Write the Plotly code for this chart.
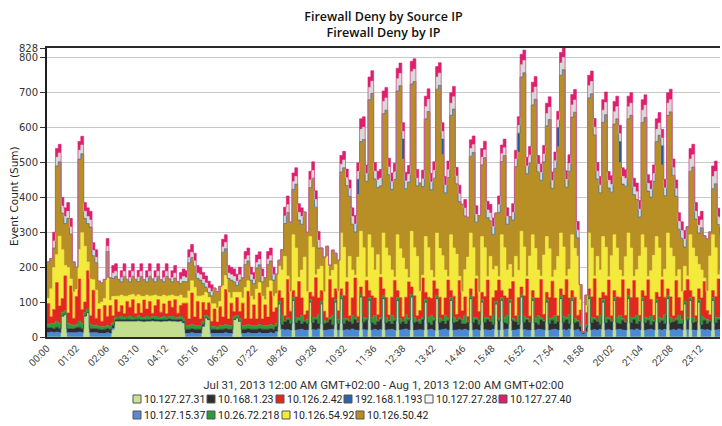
import pandas as pd
import plotly.graph_objects as go

# ---- time axis: one sample every 6 minutes across the day ----
TIMES = pd.date_range("2013-07-31 00:00", periods=240, freq="6min")

TICK_LABELS = ["00:00", "01:02", "02:06", "03:10", "04:12", "05:16", "06:20", "07:22",
               "08:26", "09:28", "10:32", "11:36", "12:38", "13:42", "14:46", "15:48",
               "16:52", "17:54", "18:58", "20:02", "21:04", "22:08", "23:12"]

Y_TICKS = [0, 100, 200, 300, 400, 500, 600, 700, 800, 828]

# ---- event counts per source IP (stack order: bottom to top) ----
IP_10_127_27_31 = [
    0, 0, 0, 0, 0, 60, 65, 0, 0, 0,
    0, 0, 0, 60, 70, 0, 0, 0, 0, 0,
    0, 0, 0, 20, 45, 45, 45, 45, 45, 45,
    45, 45, 46, 45, 44, 45, 45, 46, 45, 45,
    44, 45, 45, 46, 45, 45, 44, 45, 40, 0,
    0, 0, 0, 0, 0, 30, 55, 50, 0, 0,
    0, 0, 0, 0, 0, 0, 50, 55, 45, 0,
    0, 0, 0, 0, 0, 0, 0, 0, 0, 0,
    0, 0, 95, 0, 0, 0, 0, 105, 0, 0,
    0, 0, 0, 100, 0, 0, 0, 95, 0, 0,
    0, 0, 100, 0, 110, 0, 0, 0, 0, 0,
    0, 115, 0, 0, 105, 0, 0, 0, 0, 110,
    0, 0, 0, 0, 105, 0, 0, 0, 0, 115,
    0, 0, 0, 0, 100, 0, 0, 0, 110, 0,
    0, 0, 0, 105, 0, 0, 0, 0, 0, 0,
    110, 0, 0, 0, 100, 0, 0, 0, 0, 95,
    0, 105, 0, 0, 100, 0, 0, 0, 115, 0,
    0, 0, 105, 0, 0, 0, 0, 100, 0, 0,
    0, 0, 110, 0, 0, 0, 105, 0, 0, 0,
    0, 0, 110, 0, 0, 0, 0, 100, 0, 0,
    0, 105, 0, 0, 0, 0, 110, 0, 0, 0,
    0, 105, 0, 0, 0, 0, 100, 0, 0, 0,
    110, 0, 0, 0, 0, 0, 95, 0, 105, 0,
    0, 100, 0, 0, 0, 0, 105, 0, 0, 0]

IP_10_127_15_37 = [
    12, 14, 12, 14, 12, 0, 0, 12, 12, 12,
    12, 14, 12, 0, 0, 12, 12, 12, 10, 10,
    10, 12, 10, 5, 0, 0, 0, 0, 0, 0,
    0, 0, 0, 0, 0, 0, 0, 0, 0, 0,
    0, 0, 0, 0, 0, 0, 0, 0, 0, 10,
    10, 12, 10, 10, 10, 0, 0, 0, 10, 10,
    10, 10, 10, 12, 10, 10, 0, 0, 0, 10,
    10, 12, 10, 10, 10, 12, 10, 10, 10, 12,
    10, 15, 0, 22, 20, 21, 19, 0, 20, 21,
    22, 19, 20, 0, 21, 20, 23, 0, 19, 20,
    21, 22, 0, 20, 0, 19, 21, 20, 23, 20,
    19, 0, 21, 20, 0, 20, 22, 19, 21, 0,
    20, 21, 22, 19, 0, 20, 21, 23, 20, 0,
    19, 20, 21, 20, 0, 21, 22, 19, 0, 20,
    21, 23, 20, 0, 19, 20, 21, 20, 22, 19,
    0, 20, 21, 19, 0, 21, 20, 19, 22, 0,
    20, 0, 21, 23, 0, 19, 20, 22, 0, 21,
    20, 19, 0, 20, 22, 21, 20, 0, 19, 21,
    22, 20, 0, 21, 19, 23, 0, 20, 21, 15,
    8, 15, 0, 20, 21, 19, 22, 0, 20, 21,
    19, 0, 21, 22, 20, 19, 0, 21, 20, 23,
    20, 0, 19, 21, 22, 20, 0, 21, 19, 22,
    0, 20, 21, 19, 23, 20, 0, 21, 0, 20,
    19, 0, 22, 20, 21, 19, 0, 20, 21, 22]

IP_10_168_1_23 = [
    14, 12, 12, 14, 12, 0, 0, 12, 12, 12,
    14, 14, 12, 0, 0, 12, 12, 12, 12, 10,
    12, 12, 12, 8, 4, 6, 5, 4, 6, 5,
    4, 6, 5, 4, 6, 5, 4, 6, 5, 4,
    6, 5, 4, 6, 5, 4, 6, 5, 4, 12,
    12, 12, 12, 12, 12, 6, 0, 0, 12, 12,
    10, 12, 12, 12, 12, 12, 0, 0, 0, 12,
    12, 12, 12, 12, 12, 12, 12, 12, 12, 12,
    12, 14, 0, 14, 24, 28, 18, 0, 20, 26,
    15, 24, 18, 0, 20, 30, 14, 0, 18, 22,
    28, 13, 0, 18, 0, 20, 27, 24, 15, 30,
    22, 0, 21, 28, 0, 20, 14, 25, 29, 0,
    20, 24, 15, 27, 0, 19, 23, 14, 28, 0,
    21, 24, 18, 30, 0, 20, 13, 28, 0, 20,
    25, 14, 27, 0, 21, 24, 29, 18, 15, 23,
    0, 20, 28, 17, 0, 21, 30, 24, 14, 0,
    27, 0, 20, 15, 0, 28, 24, 13, 0, 21,
    29, 23, 0, 20, 14, 28, 25, 0, 19, 27,
    15, 24, 0, 21, 30, 14, 0, 20, 23, 14,
    4, 12, 0, 20, 28, 25, 14, 0, 21, 29,
    24, 0, 20, 15, 28, 23, 0, 19, 30, 14,
    25, 0, 21, 27, 14, 24, 0, 20, 28, 15,
    0, 20, 23, 29, 14, 18, 0, 27, 0, 21,
    24, 0, 13, 28, 18, 25, 0, 20, 29, 14]

IP_10_26_72_218 = [
    10, 12, 15, 18, 15, 10, 10, 15, 12, 10,
    10, 18, 15, 10, 10, 12, 10, 10, 8, 10,
    8, 10, 8, 8, 8, 6, 10, 8, 6, 10,
    8, 6, 10, 8, 6, 10, 8, 6, 10, 8,
    6, 10, 8, 6, 10, 8, 6, 10, 8, 10,
    10, 12, 10, 10, 10, 8, 8, 8, 8, 8,
    8, 10, 10, 12, 10, 10, 8, 8, 8, 10,
    10, 12, 10, 10, 10, 12, 10, 10, 10, 12,
    10, 10, 8, 26, 2, 6, 12, 8, 15, 7,
    25, 3, 12, 8, 16, 5, 27, 8, 12, 2,
    6, 26, 8, 12, 8, 15, 5, 2, 24, 7,
    3, 8, 14, 6, 8, 16, 26, 2, 6, 8,
    15, 3, 25, 6, 8, 14, 2, 27, 5, 8,
    16, 2, 12, 7, 8, 15, 26, 6, 8, 14,
    2, 25, 6, 8, 15, 3, 7, 12, 26, 2,
    8, 16, 6, 12, 8, 14, 5, 3, 27, 8,
    6, 8, 15, 24, 8, 7, 2, 26, 8, 16,
    5, 3, 8, 14, 26, 6, 2, 8, 15, 7,
    25, 2, 8, 16, 6, 27, 8, 14, 3, 8,
    0, 8, 8, 15, 6, 2, 26, 8, 16, 5,
    3, 8, 14, 25, 6, 2, 8, 15, 7, 26,
    2, 8, 16, 6, 24, 3, 8, 14, 5, 27,
    8, 15, 2, 6, 26, 12, 8, 7, 8, 14,
    3, 8, 25, 6, 12, 2, 8, 16, 6, 26]

IP_10_126_2_42 = [
    60, 20, 40, 110, 50, 40, 100, 30, 110, 20,
    80, 120, 40, 30, 110, 25, 100, 20, 50, 15,
    60, 25, 60, 20, 50, 15, 30, 10, 45, 25,
    50, 10, 35, 12, 50, 20, 45, 10, 30, 50,
    15, 35, 10, 45, 25, 50, 12, 30, 45, 65,
    20, 90, 25, 70, 20, 55, 15, 40, 15, 50,
    15, 55, 25, 100, 20, 65, 15, 50, 20, 65,
    20, 95, 20, 60, 20, 90, 20, 60, 25, 95,
    40, 45, 30, 50, 15, 110, 25, 20, 60, 105,
    50, 18, 25, 20, 60, 115, 48, 30, 25, 12,
    110, 52, 30, 25, 20, 65, 105, 15, 50, 112,
    15, 20, 60, 108, 20, 62, 50, 18, 115, 20,
    58, 15, 52, 110, 20, 60, 12, 50, 105, 20,
    62, 15, 25, 112, 20, 58, 50, 108, 20, 60,
    15, 50, 110, 20, 62, 18, 105, 25, 52, 15,
    20, 60, 112, 25, 20, 60, 108, 15, 50, 30,
    110, 20, 62, 50, 30, 105, 15, 52, 20, 60,
    112, 15, 20, 58, 50, 110, 18, 20, 60, 105,
    50, 15, 20, 62, 110, 48, 20, 60, 15, 40,
    3, 35, 20, 60, 112, 15, 50, 20, 62, 108,
    15, 20, 60, 52, 110, 18, 20, 58, 105, 50,
    15, 20, 62, 110, 48, 15, 20, 60, 112, 50,
    20, 60, 15, 108, 50, 25, 30, 110, 20, 60,
    15, 30, 52, 105, 25, 18, 20, 60, 110, 50]

IP_10_126_54_92 = [
    15, 80, 120, 80, 200, 140, 30, 130, 20, 75,
    20, 85, 220, 160, 25, 105, 30, 80, 15, 55,
    20, 110, 15, 55, 10, 45, 30, 50, 15, 35,
    15, 50, 25, 48, 10, 40, 15, 50, 30, 10,
    45, 25, 50, 15, 35, 10, 48, 30, 15, 15,
    80, 35, 85, 15, 65, 20, 50, 15, 50, 15,
    40, 15, 90, 40, 75, 15, 55, 15, 55, 15,
    90, 30, 65, 15, 85, 30, 65, 15, 85, 30,
    45, 40, 70, 80, 170, 10, 55, 160, 140, 12,
    80, 165, 55, 160, 140, 8, 82, 70, 55, 175,
    10, 78, 70, 55, 160, 138, 12, 170, 80, 8,
    170, 160, 140, 10, 160, 138, 80, 172, 8, 160,
    142, 170, 78, 10, 160, 140, 168, 80, 12, 160,
    138, 170, 55, 8, 160, 142, 80, 10, 160, 140,
    170, 80, 10, 160, 138, 172, 12, 55, 78, 170,
    160, 140, 8, 55, 160, 140, 10, 170, 80, 70,
    10, 160, 138, 80, 70, 12, 170, 78, 160, 140,
    8, 172, 160, 142, 80, 10, 170, 160, 140, 12,
    80, 170, 160, 138, 10, 82, 160, 140, 170, 30,
    0, 20, 160, 140, 8, 170, 80, 160, 138, 10,
    172, 160, 140, 78, 10, 168, 160, 142, 12, 80,
    170, 160, 138, 10, 82, 172, 160, 140, 8, 80,
    160, 140, 170, 12, 80, 55, 70, 10, 160, 140,
    170, 70, 80, 10, 55, 168, 160, 140, 12, 80]

IP_10_126_50_42 = [
    104, 87, 56, 254, 213, 105, 120, 141, 129, 86,
    64, 259, 226, 80, 110, 149, 69, 79, 65, 55,
    55, 76, 65, 52, 57, 48, 38, 57, 48, 38,
    52, 48, 38, 57, 48, 38, 57, 48, 38, 57,
    48, 38, 57, 48, 38, 52, 43, 33, 47, 46,
    81, 67, 61, 51, 46, 34, 15, 15, 23, 45,
    47, 43, 96, 77, 41, 51, 30, 20, 35, 58,
    66, 57, 46, 46, 61, 51, 41, 63, 66, 57,
    46, 56, 17, 58, 94, 182, 200, 130, 183, 164,
    131, 129, 170, 140, 198, 194, 61, 52, 100, 29,
    31, 58, 32, 90, 175, 228, 264, 172, 131, 124,
    179, 257, 310, 274, 387, 442, 261, 192, 254, 342,
    395, 232, 231, 279, 412, 467, 284, 231, 274, 422,
    476, 202, 310, 254, 337, 390, 231, 284, 412, 467,
    289, 221, 284, 342, 398, 202, 214, 250, 154, 114,
    220, 273, 154, 220, 205, 258, 169, 102, 101, 152,
    184, 210, 264, 131, 137, 164, 257, 338, 442, 499,
    294, 267, 372, 427, 281, 274, 267, 317, 370, 254,
    291, 314, 452, 508, 254, 281, 337, 390, 52, 43,
    0, 30, 387, 442, 404, 222, 221, 327, 380, 254,
    182, 317, 370, 308, 264, 202, 327, 380, 234, 201,
    112, 322, 373, 244, 211, 212, 272, 323, 321, 211,
    337, 390, 232, 229, 116, 153, 55, 141, 182, 232,
    107, 90, 121, 121, 150, 69, 132, 183, 144, 101]

IP_192_168_1_193 = [
    0, 0, 0, 0, 0, 0, 0, 0, 0, 0,
    0, 0, 0, 0, 0, 0, 0, 0, 0, 0,
    0, 0, 0, 0, 0, 0, 0, 0, 0, 0,
    0, 0, 0, 0, 0, 0, 0, 0, 0, 0,
    0, 0, 0, 0, 0, 0, 0, 0, 0, 0,
    0, 0, 0, 0, 0, 0, 0, 0, 0, 0,
    0, 0, 0, 0, 0, 0, 0, 0, 0, 0,
    0, 0, 0, 0, 0, 0, 0, 0, 0, 0,
    0, 0, 0, 0, 0, 0, 0, 0, 0, 0,
    0, 0, 0, 0, 0, 0, 0, 0, 0, 0,
    0, 0, 0, 0, 0, 0, 0, 0, 0, 0,
    44, 0, 0, 0, 0, 0, 0, 0, 0, 0,
    0, 0, 0, 0, 0, 0, 57, 0, 0, 0,
    0, 0, 0, 0, 0, 0, 0, 0, 0, 0,
    45, 0, 0, 0, 0, 0, 0, 0, 0, 0,
    0, 0, 0, 0, 0, 0, 0, 0, 0, 0,
    0, 0, 0, 0, 0, 0, 0, 55, 0, 0,
    0, 0, 0, 0, 0, 0, 0, 0, 0, 0,
    0, 55, 0, 0, 0, 0, 0, 0, 0, 0,
    0, 0, 0, 0, 0, 0, 0, 0, 0, 0,
    0, 0, 0, 60, 0, 0, 0, 0, 0, 0,
    0, 0, 0, 0, 0, 0, 0, 0, 55, 0,
    0, 0, 0, 0, 0, 0, 0, 0, 0, 0,
    0, 0, 0, 0, 0, 0, 0, 0, 0, 0]

IP_10_127_27_28 = [
    0, 0, 20, 25, 25, 20, 20, 20, 20, 0,
    0, 25, 25, 20, 20, 20, 15, 15, 0, 0,
    0, 15, 0, 15, 14, 0, 12, 14, 0, 12,
    14, 0, 12, 14, 0, 12, 14, 0, 12, 14,
    0, 12, 14, 0, 12, 14, 0, 12, 14, 12,
    15, 15, 15, 15, 15, 12, 12, 12, 12, 0,
    0, 0, 15, 18, 15, 15, 15, 12, 15, 0,
    15, 15, 15, 12, 15, 15, 15, 0, 15, 15,
    15, 0, 0, 0, 22, 22, 0, 22, 22, 22,
    22, 0, 0, 22, 22, 22, 22, 0, 0, 0,
    0, 0, 0, 0, 22, 22, 22, 22, 22, 22,
    22, 35, 35, 22, 35, 35, 22, 22, 22, 35,
    35, 22, 22, 22, 35, 35, 22, 22, 22, 35,
    35, 22, 0, 22, 35, 35, 22, 22, 35, 35,
    22, 22, 22, 35, 35, 22, 22, 0, 22, 0,
    22, 22, 22, 0, 22, 22, 22, 22, 22, 0,
    22, 22, 22, 22, 0, 22, 22, 22, 35, 35,
    22, 22, 35, 35, 22, 22, 22, 35, 35, 22,
    22, 22, 35, 35, 22, 22, 35, 35, 22, 0,
    0, 0, 35, 35, 22, 22, 22, 35, 35, 22,
    22, 35, 35, 22, 22, 22, 35, 35, 22, 22,
    22, 35, 35, 22, 22, 22, 35, 35, 22, 22,
    35, 35, 22, 22, 22, 22, 22, 0, 35, 35,
    22, 22, 22, 0, 0, 0, 35, 35, 22, 22]

IP_10_127_27_40 = [
    0, 0, 25, 25, 25, 25, 25, 25, 25, 0,
    0, 25, 25, 25, 25, 25, 22, 22, 0, 0,
    0, 22, 0, 22, 22, 0, 20, 22, 0, 20,
    22, 0, 20, 22, 0, 20, 22, 0, 20, 22,
    0, 20, 22, 0, 20, 22, 0, 20, 22, 20,
    22, 22, 22, 22, 22, 20, 20, 20, 20, 0,
    0, 0, 22, 22, 22, 22, 22, 20, 22, 0,
    22, 22, 22, 20, 22, 22, 22, 0, 22, 22,
    22, 0, 0, 0, 25, 25, 0, 25, 25, 25,
    25, 0, 0, 25, 25, 25, 25, 0, 0, 0,
    0, 0, 0, 0, 25, 25, 25, 25, 25, 25,
    25, 30, 30, 25, 30, 30, 25, 25, 25, 30,
    30, 25, 25, 25, 30, 30, 25, 25, 25, 30,
    30, 25, 0, 25, 30, 30, 25, 25, 30, 30,
    25, 25, 25, 30, 30, 25, 25, 0, 25, 0,
    25, 25, 25, 0, 25, 25, 25, 25, 25, 0,
    25, 25, 25, 25, 0, 25, 25, 25, 30, 30,
    25, 25, 30, 30, 25, 25, 25, 30, 30, 25,
    25, 25, 30, 30, 25, 25, 30, 30, 25, 0,
    0, 0, 30, 30, 25, 25, 25, 30, 30, 25,
    25, 30, 30, 25, 25, 25, 30, 30, 25, 25,
    25, 30, 30, 25, 25, 25, 30, 30, 25, 25,
    30, 30, 25, 25, 25, 25, 25, 0, 30, 30,
    25, 25, 25, 0, 0, 0, 30, 30, 25, 25]

# stacking order (bottom -> top): name, values, colour
STACK = [
    ("10.127.27.31", IP_10_127_27_31, "#c3de8f"),
    ("10.127.15.37", IP_10_127_15_37, "#4b89d6"),
    ("10.168.1.23", IP_10_168_1_23, "#2e2e2e"),
    ("10.26.72.218", IP_10_26_72_218, "#2f9a3a"),
    ("10.126.2.42", IP_10_126_2_42, "#e3261f"),
    ("10.126.54.92", IP_10_126_54_92, "#f4ea3c"),
    ("10.126.50.42", IP_10_126_50_42, "#b88f25"),
    ("192.168.1.193", IP_192_168_1_193, "#235a9e"),
    ("10.127.27.28", IP_10_127_27_28, "#d9d9d9"),
    ("10.127.27.40", IP_10_127_27_40, "#dd1f6e"),
]

# legend rows as they are laid out under the chart
LEGEND_ROWS = [
    ["10.127.27.31", "10.168.1.23", "10.126.2.42", "192.168.1.193", "10.127.27.28", "10.127.27.40"],
    ["10.127.15.37", "10.26.72.218", "10.126.54.92", "10.126.50.42"],
]
LEGEND_SWATCH = {
    "10.127.27.31": "#c9e39a", "10.168.1.23": "#2e2e2e", "10.126.2.42": "#e3261f",
    "192.168.1.193": "#2f62a8", "10.127.27.28": "#f4f4f4", "10.127.27.40": "#dd1f6e",
    "10.127.15.37": "#5f86d4", "10.26.72.218": "#2f9a3a", "10.126.54.92": "#f4ea3c",
    "10.126.50.42": "#b88f25",
}

# ---- page geometry (px) ----
W, H = 722, 426
ML, MR, MT, MB = 47, 2, 48, 89
PW, PH = W - ML - MR, H - MT - MB

SMALL = "Roboto, Liberation Sans, sans-serif"
PLAIN = "DejaVu Sans, Verdana, sans-serif"


def px_x(px):
    return (px - ML) / PW


def px_y(py):
    return (H - MB - py) / PH


fig = go.Figure()
for name, values, color in STACK:
    fig.add_trace(go.Scatter(
        x=TIMES, y=values, name=name, mode="lines", stackgroup="ip",
        line=dict(color=color, width=0.6, shape="hv"),
        fillcolor=color, showlegend=False,
        hovertemplate="%{x|%H:%M}  %{y}<extra>" + name + "</extra>",
    ))

tick_vals = [pd.Timestamp("2013-07-31 " + t) for t in TICK_LABELS]

fig.update_layout(
    width=W, height=H,
    margin=dict(l=ML, r=MR, t=MT, b=MB),
    paper_bgcolor="white", plot_bgcolor="white",
    showlegend=False,
    title=dict(
        text="Firewall Deny by Source IP<br>Firewall Deny by IP",
        x=0.5, xref="paper", xanchor="center",
        y=1 - 21 / H, yref="container", yanchor="top",
        font=dict(family="Open Sans, DejaVu Sans, sans-serif", size=12.5, color="#111", weight=600),
    ),
    xaxis=dict(
        type="date",
        range=[pd.Timestamp("2013-07-31 00:00"), pd.Timestamp("2013-07-31 23:54")],
        tickvals=tick_vals, ticktext=TICK_LABELS, tickangle=-45,
        tickfont=dict(family=SMALL, size=10, color="#444"),
        showgrid=False, zeroline=False,
        showline=True, linecolor="#2a2a2a", linewidth=1.5, mirror=True,
        ticks="",
        title=dict(text="Jul 31, 2013 12:00 AM GMT+02:00 - Aug 1, 2013 12:00 AM GMT+02:00",
                   font=dict(family=SMALL, size=11.5, color="#333"), standoff=14),
    ),
    yaxis=dict(
        range=[0, 828], tickvals=Y_TICKS,
        tickfont=dict(family=PLAIN, size=10, color="#333"),
        showgrid=True, gridcolor="#c8c8c8", gridwidth=1, zeroline=False,
        showline=True, linecolor="#1e1e1e", linewidth=2,
        ticks="outside", ticklen=5, tickcolor="#333",
    ),
)

# y-axis title, placed just left of the tick labels
fig.add_annotation(xref="paper", yref="paper", x=px_x(14), y=px_y(196),
                   xanchor="center", yanchor="middle", textangle=-90, showarrow=False,
                   text="Event Count (Sum)", font=dict(family=PLAIN, size=10.5, color="#222"))

# ---- legend: square swatches with labels, two rows ----
ROW_Y = [399, 415]
ROW_X = [[133, 207, 276, 344, 425, 499], [133, 207, 282, 356]]
SW = 8
for row, names in enumerate(LEGEND_ROWS):
    cy = ROW_Y[row]
    for k, name in enumerate(names):
        x0 = ROW_X[row][k]
        fig.add_shape(type="rect", xref="paper", yref="paper",
                      x0=px_x(x0), x1=px_x(x0 + SW),
                      y0=px_y(cy + SW / 2), y1=px_y(cy - SW / 2),
                      fillcolor=LEGEND_SWATCH[name], line=dict(color="#555", width=1))
        fig.add_annotation(xref="paper", yref="paper", x=px_x(x0 + SW + 1), y=px_y(cy),
                           xanchor="left", yanchor="middle", showarrow=False,
                           text=name, font=dict(family=SMALL, size=10.5, color="#222"))

fig.write_html("out.html")
